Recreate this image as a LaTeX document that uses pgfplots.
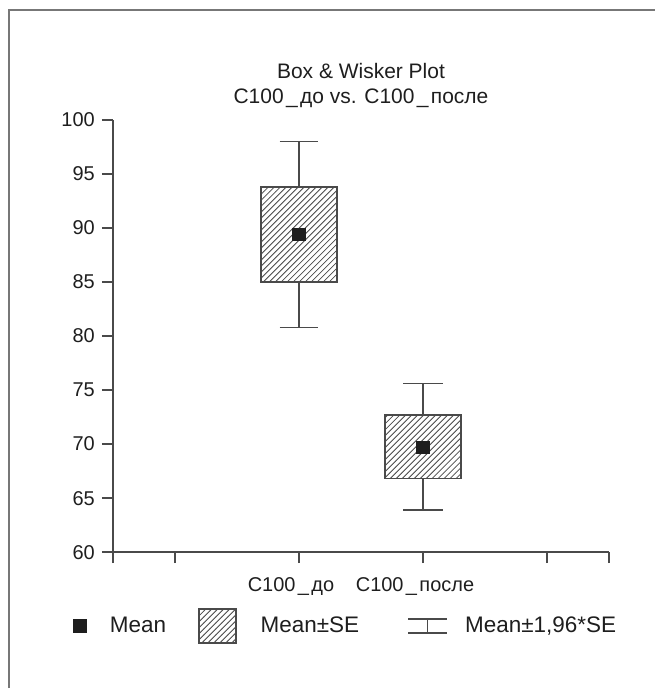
\documentclass[border=0pt]{standalone}
\usepackage{fontspec}
\setmainfont{Liberation Sans}
\usepackage{pgfplots}
\pgfplotsset{compat=1.18}
\usepgfplotslibrary{statistics}
\usetikzlibrary{patterns}
\definecolor{axisgray}{HTML}{4A4A4A}
\definecolor{framegray}{HTML}{777777}
\definecolor{textdark}{HTML}{1E1E1E}
\newcommand{\us}{\kern1.2pt\_\kern1.2pt}

\begin{document}
\begin{tikzpicture}
% 1 px of the reference = 0.5pt, axis box lower left at px (113,553)
\path (-56.5pt,-68pt) rectangle (271.5pt,276.5pt);
\draw[framegray, line width=1pt] (-52pt,-68pt) -- (-52pt,271.5pt) -- (271.5pt,271.5pt);
\begin{axis}[
    at={(0pt,0pt)}, anchor=south west,
    scale only axis, width=248.5pt, height=216.5pt,
    xmin=-0.5, xmax=3.5, ymin=60, ymax=100,
    axis lines=left,
    axis line style={-, axisgray, line width=0.8pt},
    xtick={-0.5,0,1,2,3,3.5},
    xticklabels={,,C100\us до,C100\us после,,},
    ytick={60,65,...,100},
    tick align=outside, major tick length=5.5pt,
    tick style={axisgray, line width=0.8pt},
    /pgf/number format/assume math mode=true,
    every tick label/.append style={font=\fontsize{10}{12}\selectfont, text=textdark},
    xticklabel style={yshift=-3.5pt, xshift=-4pt},
    title={Box \& Wisker Plot\\C100\us до vs. C100\us после},
    title style={align=center, font=\fontsize{10.5}{12.5}\selectfont, text=textdark,
        at={(0.5,1)}, anchor=south, inner sep=0pt, yshift=0pt},
    boxplot/draw direction=y,
    legend columns=3,
    legend style={at={(axis description cs:-0.0865,-0.171)}, anchor=west,
        draw=none, fill=none, inner sep=0pt, outer sep=0pt,
        font=\fontsize{11.25}{13}\selectfont, text=textdark,
        nodes={inner sep=0pt},
        /tikz/every even column/.append style={column sep=16pt}},
    clip=false,
]

% Mean +- SE box, Mean +- 1.96*SE whiskers
\addplot[forget plot, draw=axisgray, line width=0.8pt,
    pattern=north east lines, pattern color=axisgray,
    boxplot/draw/median/.code={},
    boxplot prepared={draw position=1,
        lower whisker=80.8, lower quartile=85.0, median=89.4,
        upper quartile=93.8, upper whisker=98.0,
        box extend=0.61, whisker extend=0.31}]
    coordinates {};
\addplot[forget plot, draw=axisgray, line width=0.8pt,
    pattern=north east lines, pattern color=axisgray,
    boxplot/draw/median/.code={},
    boxplot prepared={draw position=2,
        lower whisker=63.9, lower quartile=66.8, median=69.7,
        upper quartile=72.7, upper whisker=75.6,
        box extend=0.61, whisker extend=0.32}]
    coordinates {};

% means
\addplot[forget plot, only marks, mark=square*, mark size=3.1pt,
    mark options={fill=textdark, draw=textdark}]
    coordinates {(1,89.4) (2,69.7)};

% legend
\addlegendimage{legend image code/.code={
    \path[draw=none, fill=none] (0pt,-8.75pt) rectangle (20pt,8.75pt);
    \fill[textdark] (1.85pt,-3.15pt) rectangle (8.15pt,3.15pt);}}
\addlegendentry{Mean}
\addlegendimage{legend image code/.code={
    \path[draw=none, fill=none] (0pt,-8.75pt) rectangle (31pt,8.75pt);
    \draw[axisgray, line width=0.8pt, pattern=north east lines, pattern color=axisgray]
        (0pt,-8.5pt) rectangle (18.5pt,8.5pt);}}
\addlegendentry{Mean±SE}
\addlegendimage{legend image code/.code={
    \path[draw=none, fill=none] (0pt,-8.75pt) rectangle (37pt,8.75pt);
    \draw[axisgray, line width=0.8pt]
        (8.5pt,3.5pt) -- (28pt,3.5pt) (18.25pt,3.5pt) -- (18.25pt,-3.5pt)
        (8.5pt,-3.5pt) -- (28pt,-3.5pt);}}
\addlegendentry{{Mean±1,96*SE}}
\end{axis}
\end{tikzpicture}
\end{document}
